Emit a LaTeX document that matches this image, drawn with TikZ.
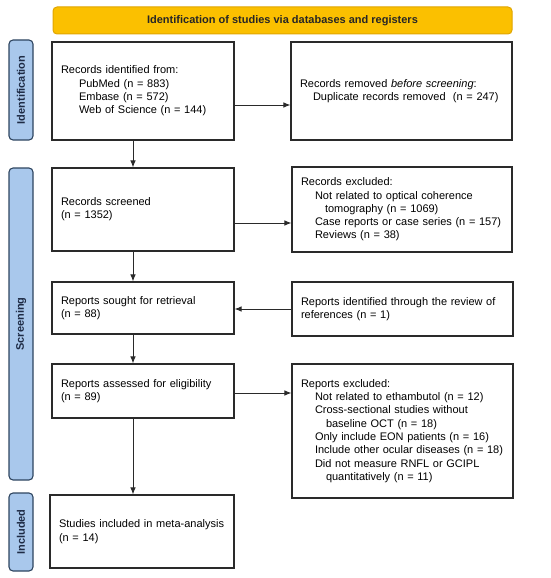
\documentclass[tikz,border=0pt]{standalone}
\usepackage{fontspec}
\setmainfont{Liberation Sans}
\usetikzlibrary{calc,arrows.meta}
\definecolor{bannerfill}{HTML}{FBC000}
\definecolor{bannerdraw}{HTML}{E0A500}
\definecolor{barfill}{HTML}{A9C8EC}
\definecolor{bardraw}{HTML}{2E4560}
\definecolor{bartext}{HTML}{1E2B45}
\definecolor{boxdraw}{HTML}{2A2A2A}
\begin{document}
\begin{tikzpicture}[x=1pt,y=-1pt,
  txt/.style={font=\fontsize{11}{13.3}\selectfont},
  box/.style={draw=boxdraw, line width=1.1pt, txt, inner xsep=9pt, inner ysep=2pt, align=left, text width=#1-18pt, minimum width=#1},
  bar/.style={draw=bardraw, fill=barfill, line width=1.1pt, rounded corners=4pt, rotate=90, minimum height=24pt, inner sep=0pt, font=\fontsize{11}{13}\selectfont\bfseries, text=bartext},
  banner/.style={draw=bannerdraw, fill=bannerfill, line width=1pt, rounded corners=4pt, minimum width=459pt, minimum height=27pt, inner sep=0pt, font=\fontsize{11}{13}\selectfont\bfseries, text=black!85},
  arr/.style={draw=boxdraw, line width=0.9pt, -{Latex[length=7pt,width=5.5pt]}}
]
\useasboundingbox (0,0) rectangle (550,578);

\node[banner] (ban) at (282.5,20.5) {Identification of studies via databases and registers};

\node[bar, minimum width=100pt] (idbar) at (21,90) {Identification};
\node[bar, minimum width=312pt] (scbar) at (21,324) {Screening};
\node[bar, minimum width=78pt] (inbar) at (21,532) {Included};

\node[box=182pt, minimum height=98pt] (b1) at (143,91) {Records identified from:\\
\hspace*{18pt}PubMed (n = 883)\\
\hspace*{18pt}Embase (n = 572)\\
\hspace*{18pt}Web of Science (n = 144)};

\node[box=221pt, minimum height=98pt] (b2) at (401.5,91) {Records removed \textit{before screening}:\\
\hspace*{13pt}Duplicate records removed\ \ (n = 247)};

\node[box=182pt, minimum height=83pt] (b3) at (143,209.5) {Records screened\\(n = 1352)};

\node[box=220pt, minimum height=85pt] (b4) at (402,209.5) {Records excluded:\\
\hspace*{14pt}Not related to optical coherence\\
\hspace*{24pt}tomography (n = 1069)\\
\hspace*{14pt}Case reports or case series (n = 157)\\
\hspace*{14pt}Reviews (n = 38)};

\node[box=182pt, minimum height=52pt] (b5) at (143,308) {Reports sought for retrieval\\(n = 88)};

\node[box=221pt, minimum height=54pt] (b6) at (402.5,309) {Reports identified through the review of\\references (n = 1)};

\node[box=182pt, minimum height=54pt] (b7) at (143,391) {Reports assessed for eligibility\\(n = 89)};

\node[box=221pt, minimum height=134pt] (b8) at (402.5,431) {Reports excluded:\\
\hspace*{14pt}Not related to ethambutol (n = 12)\\
\hspace*{14pt}Cross-sectional studies without\\
\hspace*{25pt}baseline OCT (n = 18)\\
\hspace*{14pt}Only include EON patients (n = 16)\\
\hspace*{14pt}Include other ocular diseases (n = 18)\\
\hspace*{14pt}Did not measure RNFL or GCIPL\\
\hspace*{25pt}quantitatively (n = 11)};

\node[box=184pt, minimum height=73pt] (b9) at (142,531.5) {Studies included in meta-analysis\\(n = 14)};

% horizontal arrows
\draw[arr] ($(b1.east)+(0,14)$) coordinate (h1) -- (h1 -| b2.west);
\draw[arr] ($(b3.east)+(0,13.5)$) coordinate (h2) -- (h2 -| b4.west);
\draw[arr] (b6.west) -- (b6.west -| b5.east);
\draw[arr] ($(b7.east)+(0,2)$) coordinate (h3) -- (h3 -| b8.west);

% vertical arrows
\draw[arr] ($(b1.south)+(-10,0)$) coordinate (v1) -- (v1 |- b3.north);
\draw[arr] ($(b3.south)+(-10,0)$) coordinate (v2) -- (v2 |- b5.north);
\draw[arr] ($(b5.south)+(-10,0)$) coordinate (v3) -- (v3 |- b7.north);
\draw[arr] ($(b7.south)+(-10,0)$) coordinate (v4) -- (v4 |- b9.north);
\end{tikzpicture}
\end{document}
